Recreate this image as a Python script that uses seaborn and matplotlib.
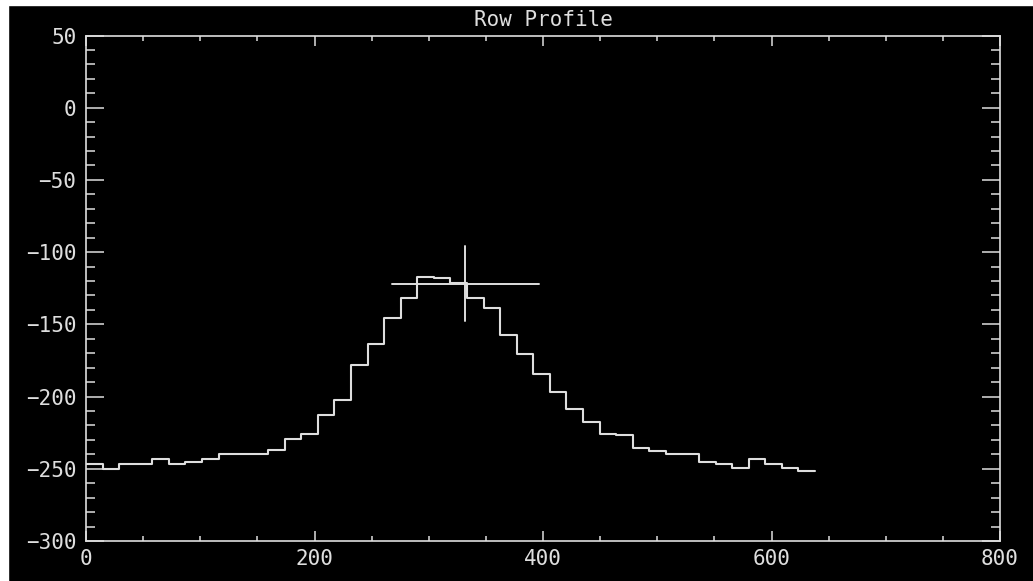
import numpy as np
import pandas as pd
import matplotlib
matplotlib.use("Agg")
import matplotlib.pyplot as plt
import seaborn as sns
from matplotlib.ticker import MultipleLocator
from matplotlib.patches import Rectangle

# ---- data ----
bin_left = [0, 14.5, 29, 43.5, 58, 72.5, 87, 101.5, 116, 130.5, 145, 159.5,
            174, 188.5, 203, 217.5, 232, 246.5, 261, 275.5, 290, 304.5, 319,
            333.5, 348, 362.5, 377, 391.5, 406, 420.5, 435, 449.5, 464, 478.5,
            493, 507.5, 522, 536.5, 551, 565.5, 580, 594.5, 609, 623.5]
bin_end = 638
profile = [-246.9, -249.9, -246.4, -246.4, -243.0, -246.4, -245.3, -243.0,
           -240.0, -240.0, -240.0, -237.2, -229.1, -225.6, -212.9, -202.1,
           -178.3, -163.9, -145.5, -131.6, -117.5, -117.8, -121.2, -131.6,
           -139.0, -157.5, -170.6, -184.5, -196.8, -208.8, -217.3, -225.6,
           -226.8, -235.6, -237.7, -239.7, -239.7, -245.3, -246.4, -249.4,
           -243.4, -246.4, -249.7, -251.7]
cross_x = 332
cross_y = -122
cross_half_w = 64.5
cross_half_h = 26
title = "Row Profile"
xticks = [0, 200, 400, 600, 800]
yticks = [-300, -250, -200, -150, -100, -50, 0, 50]

# ---- style ----
sns.set_style("ticks")
fg = "#dedede"
mono = ["DejaVu Sans Mono"]
plt.rcParams["font.family"] = mono

W, H = 1033, 581
fig = plt.figure(figsize=(W / 100, H / 100), dpi=100, facecolor="black")
ax = fig.add_axes([86 / W, 1 - 541 / H, (1000 - 86) / W, (541 - 35.5) / H])
ax.set_facecolor("black")

# white screenshot margins (top and left)
fig.patches.append(Rectangle((0, 1 - 5 / H), 1, 5 / H, transform=fig.transFigure,
                             color="white", zorder=-1))
fig.patches.append(Rectangle((0, 0), 8 / W, 1, transform=fig.transFigure,
                             color="white", zorder=-1))

df = pd.DataFrame({"x": bin_left + [bin_end], "y": profile + [profile[-1]]})
sns.lineplot(data=df, x="x", y="y", drawstyle="steps-post", estimator=None,
             color=fg, lw=1.5, ax=ax)

# crosshair cursor
ax.plot([cross_x - cross_half_w, cross_x + cross_half_w], [cross_y, cross_y],
        color=fg, lw=1.4)
ax.plot([cross_x, cross_x], [cross_y - cross_half_h, cross_y + cross_half_h],
        color=fg, lw=1.4)

ax.set_xlim(0, 800)
ax.set_ylim(-300, 50)
ax.set_xticks(xticks)
ax.set_yticks(yticks)
ax.xaxis.set_minor_locator(MultipleLocator(50))
ax.yaxis.set_minor_locator(MultipleLocator(10))
ax.set_xlabel("")
ax.set_ylabel("")

for s in ax.spines.values():
    s.set_visible(True)
    s.set_color(fg)
    s.set_linewidth(1.2)

ax.tick_params(axis="x", which="major", direction="in", length=7.2, width=1.1,
               top=True, bottom=True, colors=fg, labelsize=15, pad=6)
ax.tick_params(axis="x", which="minor", direction="in", length=3.6, width=1.1,
               top=True, bottom=True, colors=fg)
ax.tick_params(axis="y", which="major", direction="in", length=13, width=1.1,
               left=True, right=True, colors=fg, labelsize=15, pad=7)
ax.tick_params(axis="y", which="minor", direction="in", length=6.5, width=1.1,
               left=True, right=True, colors=fg)

ax.set_title(title, color=fg, fontsize=15, pad=6.5, family=mono)

fig.savefig("out.png", dpi=100, facecolor=fig.get_facecolor())
